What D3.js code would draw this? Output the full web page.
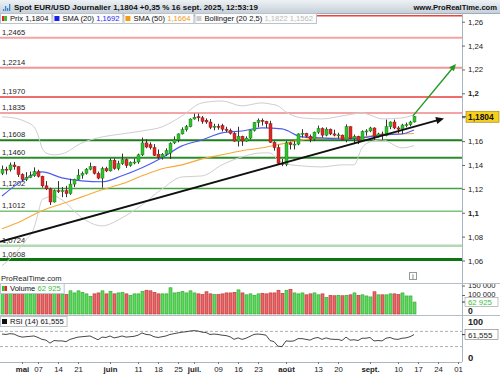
<!DOCTYPE html>
<html>
<head>
<meta charset="utf-8">
<title>Spot EUR/USD Journalier</title>
<script src="https://cdn.jsdelivr.net/npm/d3@7"></script>
<style>
  body { margin: 0; background: #fff; }
  svg text { font-family: "Liberation Sans", Arial, sans-serif; }
</style>
</head>
<body>
<div id="chart"></div>
<script>
// ---- values ----
var startDate = "2025-04-24", endDate = "2025-10-01";

var open = [1.1330,1.1365,1.1360,1.1400,1.1385,1.1320,1.1280,1.1295,1.1310,1.1345,
  1.1305,1.1225,1.1200,1.1090,1.1185,1.1180,1.1185,1.1160,1.1240,1.1280,
  1.1315,1.1330,1.1365,1.1385,1.1330,1.1290,1.1370,1.1350,1.1440,1.1370,
  1.1410,1.1445,1.1395,1.1420,1.1425,1.1485,1.1585,1.1570,1.1545,1.1490,
  1.1465,1.1490,1.1500,1.1585,1.1610,1.1660,1.1695,1.1720,1.1785,1.1805,
  1.1795,1.1775,1.1760,1.1715,1.1725,1.1730,1.1700,1.1690,1.1665,1.1600,
  1.1640,1.1600,1.1625,1.1690,1.1755,1.1775,1.1765,1.1745,1.1590,1.1545,
  1.1415,1.1405,1.1585,1.1570,1.1575,1.1660,1.1665,1.1640,1.1615,1.1675,
  1.1705,1.1650,1.1700,1.1660,1.1650,1.1650,1.1610,1.1720,1.1620,1.1640,
  1.1605,1.1680,1.1685,1.1710,1.1640,1.1660,1.1645,1.1720,1.1760,1.1710,
  1.1700,1.1735,1.1738,1.1760];
var high = [1.1395,1.1385,1.1420,1.1425,1.1390,1.1330,1.1340,1.1345,1.1380,1.1360,
  1.1310,1.1265,1.1210,1.1195,1.1265,1.1215,1.1225,1.1285,1.1285,1.1365,
  1.1345,1.1375,1.1420,1.1390,1.1345,1.1385,1.1385,1.1455,1.1455,1.1435,
  1.1495,1.1455,1.1430,1.1455,1.1495,1.1630,1.1615,1.1590,1.1575,1.1530,
  1.1500,1.1540,1.1590,1.1640,1.1665,1.1715,1.1735,1.1790,1.1830,1.1830,
  1.1810,1.1790,1.1785,1.1745,1.1745,1.1745,1.1720,1.1705,1.1675,1.1720,
  1.1645,1.1640,1.1695,1.1760,1.1790,1.1790,1.1770,1.1770,1.1600,1.1570,
  1.1450,1.1600,1.1595,1.1600,1.1665,1.1700,1.1670,1.1655,1.1680,1.1730,
  1.1715,1.1715,1.1705,1.1695,1.1670,1.1655,1.1740,1.1725,1.1655,1.1645,
  1.1690,1.1700,1.1720,1.1715,1.1670,1.1680,1.1780,1.1765,1.1780,1.1725,
  1.1745,1.1755,1.1770,1.1810];
var low = [1.1315,1.1320,1.1345,1.1360,1.1300,1.1265,1.1265,1.1290,1.1300,1.1295,
  1.1210,1.1190,1.1065,1.1085,1.1165,1.1130,1.1130,1.1150,1.1215,1.1275,
  1.1285,1.1320,1.1355,1.1320,1.1280,1.1210,1.1340,1.1345,1.1360,1.1355,
  1.1400,1.1375,1.1385,1.1405,1.1410,1.1475,1.1540,1.1530,1.1475,1.1450,
  1.1445,1.1475,1.1450,1.1575,1.1590,1.1655,1.1680,1.1715,1.1780,1.1765,
  1.1745,1.1745,1.1700,1.1690,1.1695,1.1680,1.1675,1.1655,1.1595,1.1555,
  1.1560,1.1595,1.1615,1.1680,1.1715,1.1730,1.1710,1.1585,1.1520,1.1400,
  1.1390,1.1390,1.1530,1.1530,1.1565,1.1630,1.1630,1.1590,1.1600,1.1660,
  1.1630,1.1640,1.1650,1.1640,1.1620,1.1605,1.1590,1.1615,1.1575,1.1575,
  1.1600,1.1645,1.1675,1.1610,1.1630,1.1610,1.1640,1.1700,1.1700,1.1665,
  1.1660,1.1715,1.1725,1.1755];
var close = [1.1365,1.1360,1.1400,1.1385,1.1320,1.1280,1.1295,1.1310,1.1345,1.1305,
  1.1225,1.1200,1.1090,1.1185,1.1180,1.1185,1.1160,1.1240,1.1280,1.1315,
  1.1330,1.1365,1.1385,1.1330,1.1290,1.1370,1.1350,1.1440,1.1370,1.1410,
  1.1445,1.1395,1.1420,1.1425,1.1485,1.1585,1.1550,1.1545,1.1480,1.1465,
  1.1490,1.1520,1.1580,1.1610,1.1660,1.1695,1.1720,1.1785,1.1800,1.1795,
  1.1765,1.1760,1.1715,1.1725,1.1715,1.1700,1.1690,1.1665,1.1600,1.1640,
  1.1600,1.1625,1.1690,1.1755,1.1775,1.1765,1.1745,1.1590,1.1545,1.1415,
  1.1405,1.1585,1.1570,1.1575,1.1660,1.1665,1.1640,1.1615,1.1675,1.1705,
  1.1650,1.1700,1.1660,1.1650,1.1652,1.1610,1.1720,1.1620,1.1640,1.1605,
  1.1680,1.1685,1.1710,1.1640,1.1660,1.1645,1.1720,1.1760,1.1710,1.1700,
  1.1735,1.1738,1.1760,1.1804];

// volume in thousands
var volume = [112,108,115,104,118,110,120,105,112,116,124,118,135,128,110,
  106,102,122,111,122,114,106,93,106,111,122,106,119,106,111,114,106,98,106,106,
  119,125,122,114,106,106,106,138,111,114,119,111,122,111,106,102,117,106,102,102,
  106,111,111,114,127,111,101,
  106,98,106,109,106,111,111,125,109,125,130,111,106,111,101,106,111,101,106,87,
  98,96,98,96,98,101,111,98,101,95,90,117,101,101,101,106,106,102,111,95,95,62.925];

var rsi = [63,62,64,63,58,55,56,57,58,54,49,47,39,46,45,45,43,49,52,55,
  56,57,58,53,48,55,54,58,53,55,58,55,56,57,60,66,62,61,56,54,
  56,58,62,64,66,68,69,71,72,71,68,67,62,63,62,60,59,56,49,53,
  49,52,57,62,63,62,60,46,43,31,30,45,44,45,51,51,49,47,52,54,
  49,53,50,49,49,46,55,47,48,46,52,52,54,45,46,45,52,54,50,49,
  52,53,56,61.555];

// moving averages, read every 5 sessions
var smaIdx = [0,5,10,15,20,25,30,35,40,45,50,55,60,65,70,75,80,85,90,95,100,103];
var sma20 = [1.1140,1.1267,1.1342,1.1292,1.1267,1.1259,1.1309,1.1376,1.1460,1.1560,1.1610,
  1.1669,1.1685,1.1711,1.1702,1.1635,1.1627,1.1618,1.1627,1.1652,1.1660,1.1692];
var sma50 = [1.0865,1.0933,1.1017,1.1075,1.1133,1.1192,1.1242,1.1309,1.1368,1.1401,1.1451,
  1.1485,1.1519,1.1544,1.1577,1.1610,1.1623,1.1627,1.1635,1.1652,1.1660,1.1664];

// Bollinger (20, 2.5) envelope
var bandIdx = [0,3,6,8,9,10,11,13,15,20,25,30,35,40,45,50,55,60,65,67,69,71,75,80,85,88,90,92,95,100,103];
var bollUp = [1.1803,1.1794,1.1761,1.1719,1.1652,1.1543,1.1501,1.1485,1.1493,1.1585,1.1635,
  1.1660,1.1685,1.1719,1.1811,1.1920,1.1936,1.1895,1.1920,1.1911,1.1895,1.1844,1.1794,
  1.1786,1.1811,1.1828,1.1836,1.1819,1.1786,1.1794,1.1822];
var bollLow = [1.0556,1.0648,1.0773,1.0873,1.0991,1.1108,1.1125,1.1141,1.1108,1.0957,1.0890,
  1.0957,1.1066,1.1199,1.1300,1.1308,1.1401,1.1468,1.1501,1.1501,1.1443,1.1409,1.1392,
  1.1384,1.1401,1.1401,1.1543,1.1593,1.1610,1.1543,1.1562];

// horizontal levels drawn on the chart
var levels = [1.2650,1.2465,1.2214,1.1970,1.1835,1.1608,1.1460,1.1202,1.1012,1.0724,1.0608];
var levelLabels = ["","1,2465","1,2214","1,1970","1,1835","1,1608","1,1460","1,1202","1,1012","1,0724","1,0608"];

// trend line and projection arrow (session index, price)
var trendLine = [[-0.5,1.0757],[110.5,1.1790]];
var projection = [[102.75,1.1811],[113.5,1.2246]];

var priceTicks = [1.06,1.08,1.10,1.12,1.14,1.16,1.18,1.20,1.22,1.24,1.26];
var tickDates = ["2025-05-01","2025-05-07","2025-05-14","2025-05-21","2025-06-02","2025-06-11",
  "2025-06-18","2025-06-25","2025-07-01","2025-07-09","2025-07-16","2025-07-23","2025-08-01",
  "2025-08-13","2025-08-20","2025-09-01","2025-09-10","2025-09-17","2025-09-24","2025-10-01"];
var tickLabels = ["mai","07","14","21","juin","11","18","25","juil.","09","16","23","août",
  "13","20","sept.","10","17","24","01"];

// ---- layout ----
var W = 500, H = 375, axisX = 462;
var fmtDay = d3.utcFormat("%Y-%m-%d"), parseDay = d3.utcParse("%Y-%m-%d");
var sessions = d3.utcDays(parseDay(startDate), d3.utcDay.offset(parseDay(endDate), 1))
  .filter(function(d){ return d.getUTCDay() % 6 !== 0; })
  .map(fmtDay);

var x = d3.scaleLinear().domain([0, close.length - 1]).range([2, 414]);
var y = d3.scaleLinear().domain([1.06, 1.26]).range([260.5, 21.7]);
var yVol = d3.scaleLinear().domain([0, 150]).range([314, 285.5]);
var yRsi = d3.scaleLinear().domain([0, 100]).range([358, 320]);
var comma = function(v, f){ return d3.format(f)(v).replace(".", ","); };
var last = function(a){ return a[a.length - 1]; };

var svg = d3.select("#chart").append("svg").attr("width", W).attr("height", H);
var defs = svg.append("defs");
var grad = defs.append("linearGradient").attr("id", "bar").attr("x1",0).attr("y1",0).attr("x2",0).attr("y2",1);
grad.append("stop").attr("offset", "0%").attr("stop-color", "#eef2f5");
grad.append("stop").attr("offset", "100%").attr("stop-color", "#c6d0d9");
defs.append("clipPath").attr("id", "cp").append("rect").attr("x",0).attr("y",13).attr("width",axisX).attr("height",270);
defs.append("clipPath").attr("id", "cv").append("rect").attr("x",0).attr("y",283).attr("width",axisX).attr("height",32);
defs.append("clipPath").attr("id", "cr").append("rect").attr("x",0).attr("y",316).attr("width",axisX).attr("height",46);

svg.append("rect").attr("width", W).attr("height", H).attr("fill", "#fff");

// ---- price panel ----
var price = svg.append("g").attr("clip-path", "url(#cp)");

var levelStyle = [["#e8453c",1.5],["#f5a3a3",2],["#f19595",2],["#e83b3b",1.5],["#f4a4a4",2],
  ["#1e7e1e",2],["#2c8c2c",2],["#45a045",1.5],["#7cc47c",1.5],["#b2dab2",2.5],["#0f760f",3]];
price.selectAll("line.level").data(levels).join("line")
  .attr("x1", 0).attr("x2", axisX)
  .attr("y1", function(d){ return y(d); }).attr("y2", function(d){ return y(d); })
  .attr("stroke", function(d, i){ return levelStyle[i][0]; })
  .attr("stroke-width", function(d, i){ return levelStyle[i][1]; });
price.selectAll("text.level").data(levels).join("text")
  .attr("x", 2).attr("y", function(d){ return y(d) - 3; })
  .attr("font-size", 7.6).attr("fill", "#222")
  .text(function(d, i){ return levelLabels[i]; });

var bandLine = d3.line().x(function(d){ return x(d[0]); }).y(function(d){ return y(d[1]); }).curve(d3.curveMonotoneX);
price.append("path").datum(d3.zip(bandIdx, bollUp)).attr("d", bandLine)
  .attr("fill", "none").attr("stroke", "#cfcfcf").attr("stroke-width", 1);
price.append("path").datum(d3.zip(bandIdx, bollLow)).attr("d", bandLine)
  .attr("fill", "none").attr("stroke", "#cfcfcf").attr("stroke-width", 1);
price.append("path").datum(d3.zip(smaIdx, sma50)).attr("d", bandLine)
  .attr("fill", "none").attr("stroke", "#f7a93a").attr("stroke-width", 1.1);
price.append("path").datum(d3.zip(smaIdx, sma20)).attr("d", bandLine)
  .attr("fill", "none").attr("stroke", "#4f5bf0").attr("stroke-width", 1.1);

var candles = d3.range(close.length).map(function(i){
  return { i: i, o: open[i], h: high[i], l: low[i], c: close[i], up: close[i] >= open[i] };
});
var cg = price.selectAll("g.candle").data(candles).join("g");
cg.append("line")
  .attr("x1", function(d){ return x(d.i) + 0.5; }).attr("x2", function(d){ return x(d.i) + 0.5; })
  .attr("y1", function(d){ return y(d.h); }).attr("y2", function(d){ return y(d.l); })
  .attr("stroke", "#333").attr("stroke-width", 1);
cg.append("rect")
  .attr("x", function(d){ return x(d.i) - 1; }).attr("width", 3)
  .attr("y", function(d){ return y(Math.max(d.o, d.c)); })
  .attr("height", function(d){ return Math.max(1, Math.abs(y(d.o) - y(d.c))); })
  .attr("fill", function(d){ return d.up ? "#2fc22f" : "#e02626"; })
  .attr("stroke", function(d){ return d.up ? "#0e6e0e" : "#7a1010"; })
  .attr("stroke-width", 0.4);

function arrow(g, pts, color, w, head) {
  var x1 = x(pts[0][0]), y1 = y(pts[0][1]), x2 = x(pts[1][0]), y2 = y(pts[1][1]);
  var a = Math.atan2(y2 - y1, x2 - x1), c = Math.cos(a), s = Math.sin(a);
  g.append("line").attr("x1", x1).attr("y1", y1)
    .attr("x2", x2 - head * 0.8 * c).attr("y2", y2 - head * 0.8 * s)
    .attr("stroke", color).attr("stroke-width", w);
  var bx = x2 - head * c, by = y2 - head * s, hw = head * 0.45;
  g.append("polygon")
    .attr("points", [[x2, y2], [bx + hw * s, by - hw * c], [bx - hw * s, by + hw * c]].join(" "))
    .attr("fill", color);
}
arrow(price, trendLine, "#111", 2, 8);
arrow(price, projection, "#239a23", 1.4, 7);

// ---- header bar and legend ----
svg.append("rect").attr("width", W).attr("height", 13).attr("fill", "url(#bar)");
svg.append("line").attr("x1", 0).attr("x2", W).attr("y1", 13.5).attr("y2", 13.5).attr("stroke", "#9fadba");
[[3,7,2],[5,4,5],[7,6,3],[9,2,7]].forEach(function(b){
  svg.append("rect").attr("x", b[0]).attr("y", 11 - b[2]).attr("width", 1.3).attr("height", b[2]).attr("fill", "#3a86d6");
});
svg.append("text").attr("x", 14).attr("y", 10).attr("font-size", 8).attr("font-weight", "bold").attr("fill", "#111")
  .text("Spot EUR/USD Journalier " + comma(last(close), ".4f") + " +0,35 % 16 sept. 2025, 12:53:19");
svg.append("text").attr("x", 497).attr("y", 10).attr("text-anchor", "end").attr("font-size", 7.6)
  .attr("font-weight", "bold").attr("fill", "#111").text("www.ProRealTime.com");

function legendBox(x0, y0, h, items) {
  var lx = x0;
  items.forEach(function(it){
    var g = svg.append("g");
    var bg = g.append("rect").attr("x", lx + 0.5).attr("y", y0 + 0.5).attr("height", h)
      .attr("fill", "#fcfcfc").attr("stroke", "#b9c3cc").attr("stroke-width", 1);
    it.icon.forEach(function(c, k){
      g.append("rect").attr("x", lx + 2 + k * 2.5).attr("y", y0 + 3).attr("width", 5 / it.icon.length)
        .attr("height", 5).attr("fill", c);
    });
    var t = g.append("text").attr("x", lx + 10).attr("y", y0 + h - 2).attr("font-size", 7.6);
    it.parts.forEach(function(p){ t.append("tspan").attr("fill", p[1]).text(p[0]); });
    var w = 10 + t.node().getComputedTextLength() + 3;
    bg.attr("width", w);
    lx += w + 1;
  });
}
legendBox(0, 13, 10, [
  { icon: ["#e02626", "#2fc22f"], parts: [["Prix " + comma(last(close), ".4f"), "#111"]] },
  { icon: ["#1c1cf0"], parts: [["SMA (20) ", "#111"], [comma(last(sma20), ".4f"), "#2a2af0"]] },
  { icon: ["#f39c12"], parts: [["SMA (50) ", "#111"], [comma(last(sma50), ".4f"), "#f39c12"]] },
  { icon: ["#cccccc"], parts: [["Bollinger (20 2,5) ", "#111"], [comma(last(bollUp), ".4f") + " " + comma(last(bollLow), ".4f"), "#bbbbbb"]] }
]);

// ---- right price axis ----
var axisG = svg.append("g").attr("transform", "translate(" + axisX + ",0)");
axisG.append("line").attr("x1", 0.5).attr("x2", 0.5).attr("y1", 13).attr("y2", 362).attr("stroke", "#aab6c2");
var cy = y(last(close));
var pa = axisG.append("g").call(d3.axisRight(y).tickValues(priceTicks).tickSize(3).tickPadding(3)
  .tickFormat(function(d){ return comma(d, ".2f").replace(/0$/, ""); }));
pa.select(".domain").remove();
pa.selectAll("line").attr("stroke", "#667");
pa.selectAll("text").attr("font-size", 7.8).attr("fill", "#222")
  .attr("font-family", "Liberation Sans, Arial, sans-serif")
  .attr("font-weight", function(d){ return Math.abs(d * 10 - Math.round(d * 10)) < 1e-6 ? "bold" : "normal"; })
  // the tick hidden behind the last-price box
  .filter(function(d){ return Math.abs(y(d) - cy) < 9; }).remove();

axisG.append("line").attr("x1", 0).attr("x2", 4).attr("y1", cy).attr("y2", cy).attr("stroke", "#333");
axisG.append("rect").attr("x", 4).attr("y", cy - 5.5).attr("width", 33).attr("height", 11)
  .attr("fill", "#f6cf1c").attr("stroke", "#8f7d22").attr("stroke-width", 0.6);
axisG.append("text").attr("x", 6).attr("y", cy + 3).attr("font-size", 8.4).attr("font-weight", "bold")
  .attr("fill", "#111").text(comma(last(close), ".4f"));

// ---- footer of price panel ----
svg.append("text").attr("x", 1).attr("y", 281).attr("font-size", 7.6).attr("fill", "#222").text("ProRealTime.com");
svg.append("rect").attr("x", 409.5).attr("y", 272.5).attr("width", 7).attr("height", 7)
  .attr("fill", "#fff").attr("stroke", "#999");
svg.append("text").attr("x", 413).attr("y", 278.5).attr("text-anchor", "middle").attr("font-size", 6.5)
  .attr("font-weight", "bold").attr("fill", "#888").text("i");

// ---- volume panel ----
svg.append("line").attr("x1", 0).attr("x2", W).attr("y1", 283.5).attr("y2", 283.5).attr("stroke", "#b3bec8");
var vol = svg.append("g").attr("clip-path", "url(#cv)");
vol.selectAll("rect").data(candles).join("rect")
  .attr("x", function(d){ return x(d.i) - 1; }).attr("width", 3)
  .attr("y", function(d){ return yVol(volume[d.i]); })
  .attr("height", function(d){ return yVol(0) - yVol(volume[d.i]); })
  .attr("fill", function(d){ return d.up ? "#5ed85e" : "#e46a6a"; })
  .attr("stroke", function(d){ return d.up ? "#27a827" : "#c42a2a"; })
  .attr("stroke-width", 0.6);
var volText = d3.format(",.0f")(last(volume) * 1000).replace(",", " ");
legendBox(0, 283, 10, [
  { icon: ["#2fc22f", "#e02626"], parts: [["Volume ", "#111"], [volText, "#3cbf3c"]] }
]);
var va = axisG.append("g").call(d3.axisRight(yVol).tickValues([100, 150]).tickSize(3).tickPadding(3)
  .tickFormat(function(d){ return d3.format(",")(d * 1000).replace(",", " "); }));
va.select(".domain").remove();
va.selectAll("line").attr("stroke", "#667");
va.selectAll("text").attr("font-size", 7.6).attr("fill", "#222").attr("dy", "0.2em")
  .attr("font-family", "Liberation Sans, Arial, sans-serif");
axisG.append("text").attr("x", 6).attr("y", 313.5).attr("font-size", 8.6).attr("font-weight", "bold").attr("fill", "#222").text("0");
var vy = yVol(last(volume));
axisG.append("line").attr("x1", 0).attr("x2", 3).attr("y1", vy).attr("y2", vy).attr("stroke", "#333");
axisG.append("rect").attr("x", 3).attr("y", vy - 4.5).attr("width", 33).attr("height", 9)
  .attr("fill", "#fff").attr("stroke", "#999").attr("stroke-width", 0.6);
axisG.append("text").attr("x", 6).attr("y", vy + 3).attr("font-size", 7.8).attr("fill", "#3cbf3c").text(volText);

// ---- RSI panel ----
svg.append("line").attr("x1", 0).attr("x2", W).attr("y1", 315.5).attr("y2", 315.5).attr("stroke", "#b3bec8");
var rg = svg.append("g").attr("clip-path", "url(#cr)");
[30, 70].forEach(function(v){
  rg.append("line").attr("x1", 0).attr("x2", axisX).attr("y1", yRsi(v)).attr("y2", yRsi(v))
    .attr("stroke", "#9a9a9a").attr("stroke-dasharray", "3,2").attr("stroke-width", 0.8);
});
rg.append("path").datum(rsi).attr("fill", "none").attr("stroke", "#333").attr("stroke-width", 0.9)
  .attr("d", d3.line().x(function(d, i){ return x(i); }).y(function(d){ return yRsi(d); }));
legendBox(0, 316, 10, [
  { icon: ["#111"], parts: [["RSI (14) " + comma(last(rsi), ".3f"), "#111"]] }
]);
axisG.append("text").attr("x", 6).attr("y", yRsi(100) + 4.5).attr("font-size", 9).attr("font-weight", "bold").attr("fill", "#222").text("100");
axisG.append("text").attr("x", 6).attr("y", yRsi(0) + 3).attr("font-size", 9.5).attr("font-weight", "bold").attr("fill", "#222").text("0");
var ry = yRsi(last(rsi));
axisG.append("line").attr("x1", 0).attr("x2", 3).attr("y1", ry).attr("y2", ry).attr("stroke", "#333");
axisG.append("rect").attr("x", 3).attr("y", ry - 5).attr("width", 33).attr("height", 10)
  .attr("fill", "#fff").attr("stroke", "#777").attr("stroke-width", 0.6);
axisG.append("text").attr("x", 6).attr("y", ry + 3).attr("font-size", 8).attr("fill", "#222")
  .text(comma(last(rsi), ".3f"));

// ---- time axis ----
var tickIdx = tickDates.map(function(d){ return sessions.indexOf(d); });
var xa = svg.append("g").attr("transform", "translate(0,362)")
  .call(d3.axisBottom(x).tickValues(tickIdx).tickSize(2).tickPadding(2)
    .tickFormat(function(d, i){ return tickLabels[i]; }));
xa.select(".domain").attr("d", "M0,0.5H" + axisX).attr("stroke", "#aab6c2");
xa.selectAll("line").attr("stroke", "#777");
xa.selectAll("text").attr("font-size", 7.8).attr("fill", "#222")
  .attr("font-family", "Liberation Sans, Arial, sans-serif")
  .attr("font-weight", function(d, i){ return /\d/.test(tickLabels[i]) ? "normal" : "bold"; });
</script>
</body>
</html>
